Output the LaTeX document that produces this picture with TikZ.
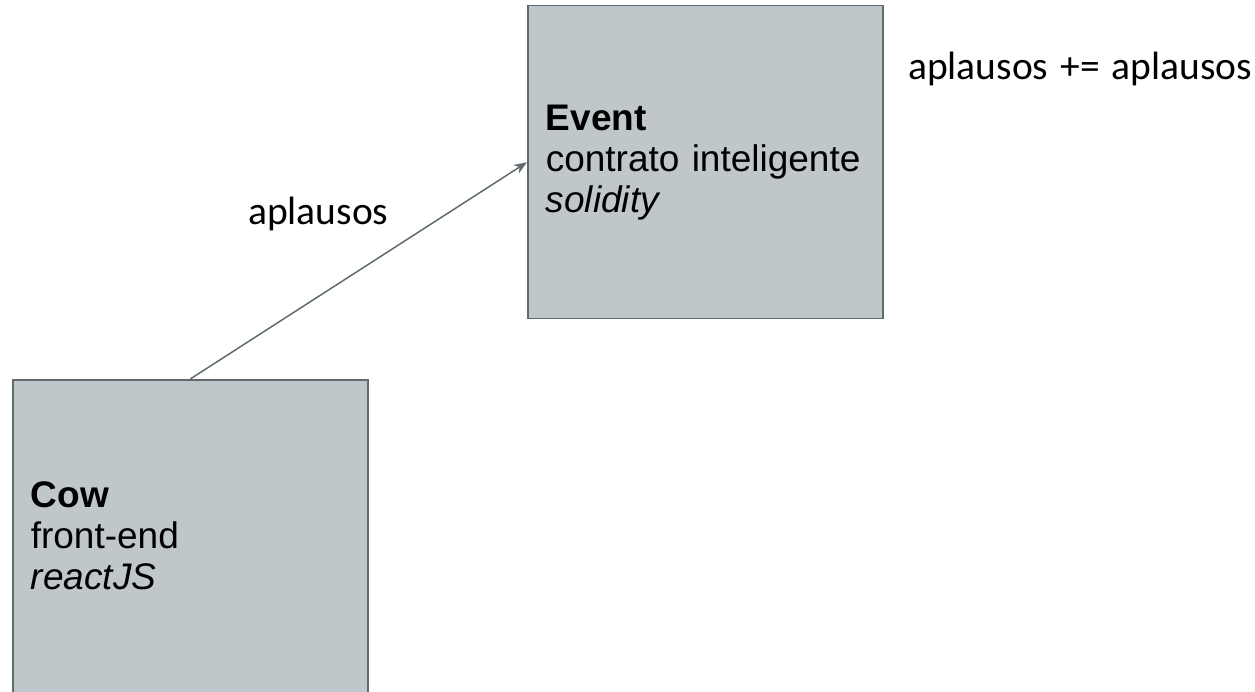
\documentclass[tikz,border=0pt]{standalone}
\usepackage{fontspec}
\setmainfont{Liberation Sans}
\newfontfamily\labelfont{Carlito}
\usetikzlibrary{arrows.meta}
\definecolor{boxfill}{RGB}{192,199,202}
\definecolor{boxline}{RGB}{95,107,109}
\begin{document}
\begin{tikzpicture}[x=1pt,y=-1pt,
  box/.style={draw=boxline, fill=boxfill, line width=1.5pt, rectangle,
    minimum width=355pt, minimum height=313pt, text width=319pt,
    inner xsep=18pt, inner ysep=0pt, align=left,
    font=\fontsize{37}{41}\selectfont, anchor=north west},
  lbl/.style={font=\labelfont\fontsize{39.5}{46}\selectfont, anchor=base west, inner sep=0pt},
  conn/.style={draw=boxline, line width=1.5pt, -{Stealth[length=13pt,width=10pt]}}]
\useasboundingbox (0,0) rectangle (1255,692);
\node[box] (event) at (527,5) {\textbf{Event}\\contrato inteligente\\\textit{solidity}};
\node[box] (cow) at (12,379) {\textbf{Cow}\\front-end\\\textit{reactJS}};
\draw[conn] (cow.north) -- (event.west);
\node[lbl] (lab1) at (248,225) {aplausos};
\node[lbl] (lab2) at (908,80) {aplausos\hspace{0.08em} +=\hspace{0.08em} aplausos};
\end{tikzpicture}
\end{document}
